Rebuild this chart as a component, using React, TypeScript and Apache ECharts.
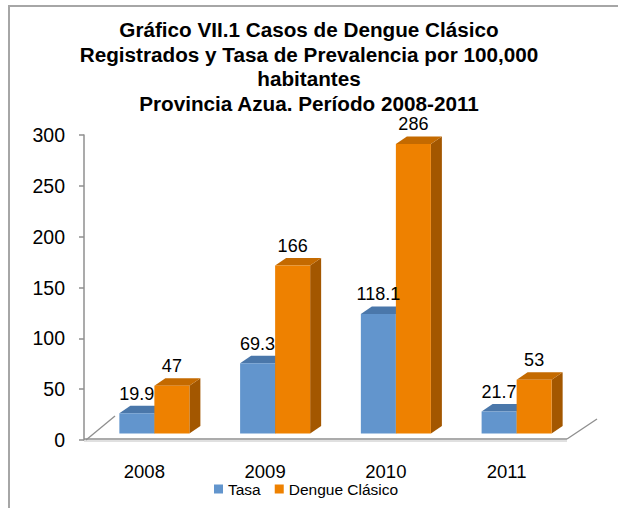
import React, { useEffect, useRef } from 'react';
import * as echarts from 'echarts';

const categories = ['2008', '2009', '2010', '2011'];
const tasa = [19.9, 69.3, 118.1, 21.7];
const dengue = [47, 166, 286, 53];
const seriesNames = ['Tasa', 'Dengue Clásico'];
const titleText = [
  'Gráfico VII.1 Casos de Dengue Clásico',
  'Registrados y Tasa de Prevalencia por 100,000',
  'habitantes',
  'Provincia Azua. Período 2008-2011',
].join('\n');
const yMin = 0;
const yMax = 300;
const yInterval = 50;

const FONT = '"Liberation Sans", Arial, Helvetica, sans-serif';
const BLUE = { front: '#6295cd', top: '#4a77aa', side: '#3f6796' };
const ORANGE = { front: '#ee8100', top: '#c46a00', side: '#a35700' };
const DX = 11;
const DY = 7.5;
const BAR_RATIO = 0.29;

function makeBarRender(side: number, colors: { front: string; top: string; side: string }) {
  return (params: any, api: any) => {
    const idx = api.value(0);
    const v = api.value(1);
    const base = api.coord([idx, 0]);
    const topP = api.coord([idx, v]);
    const bw = api.size([1, 0])[0] * BAR_RATIO;
    const cx = base[0];
    const x0 = side < 0 ? cx - bw : cx;
    const x1 = x0 + bw;
    const yb = base[1];
    const yt = topP[1];
    return {
      type: 'group',
      children: [
        {
          type: 'polygon',
          shape: { points: [[x1, yb], [x1 + DX, yb - DY], [x1 + DX, yt - DY], [x1, yt]] },
          style: { fill: colors.side },
          z2: 1,
        },
        {
          type: 'polygon',
          shape: { points: [[x0, yt], [x0 + DX, yt - DY], [x1 + DX, yt - DY], [x1, yt]] },
          style: { fill: colors.top },
          z2: 2,
        },
        {
          type: 'rect',
          shape: { x: x0, y: yt, width: bw, height: yb - yt },
          style: { fill: colors.front },
          z2: 3,
        },
        {
          type: 'text',
          x: (x0 + x1) / 2,
          y: yt - 19.5,
          z2: 100,
          style: {
            text: String(v),
            fontSize: 18,
            fontFamily: FONT,
            fill: '#000',
            textAlign: 'center',
            textVerticalAlign: 'middle',
            align: 'center',
            verticalAlign: 'middle',
          },
        },
      ],
    };
  };
}

function floorRender(params: any, api: any) {
  const p0 = api.coord([0, 0]);
  const bw = api.size([1, 0])[0];
  const xl = p0[0] - bw / 2;
  const xr = xl + bw * categories.length;
  const y = p0[1] - 1;
  const stroke = '#8f8f8f';
  return {
    type: 'group',
    children: [
      { type: 'line', shape: { x1: xl, y1: y + 2, x2: xr, y2: y + 2 }, style: { stroke: '#d6d6d6', lineWidth: 1.5 } },
      { type: 'line', shape: { x1: xl, y1: y, x2: xr, y2: y }, style: { stroke, lineWidth: 1.5 } },
      { type: 'line', shape: { x1: xl + 2, y1: y + 1, x2: xl + 31, y2: y - 23 }, style: { stroke, lineWidth: 1.3 } },
      { type: 'line', shape: { x1: xr, y1: y, x2: xr + 30, y2: y - 20 }, style: { stroke, lineWidth: 1.3 } },
    ],
  };
}

export default function App() {
  const ref = useRef<HTMLDivElement>(null);
  useEffect(() => {
    if (!ref.current) return;
    const chart = echarts.init(ref.current, undefined, { renderer: 'svg' });
    chart.setOption({
      animation: false,
      color: [BLUE.front, ORANGE.front],
      title: {
        text: titleText,
        left: 'center',
        top: 17.5,
        padding: [0, 0, 0, 14],
        textStyle: {
          fontFamily: FONT,
          fontSize: 20.7,
          fontWeight: 'bold',
          lineHeight: 24.5,
          color: '#000',
        },
      },
      legend: {
        data: seriesNames,
        left: 214,
        top: 481,
        padding: 0,
        icon: 'rect',
        itemWidth: 9,
        itemHeight: 9,
        itemGap: 14,
        textStyle: { fontFamily: FONT, fontSize: 15.5, color: '#000' },
      },
      graphic: [
        {
          type: 'rect',
          shape: { x: 9, y: 6, width: 700, height: 600 },
          style: { fill: 'none', stroke: '#a6a6a6', lineWidth: 2 },
          silent: true,
        },
      ],
      grid: [
        { left: 84, right: 51, top: 135, bottom: 68 },
        { left: 94, right: 41, top: 129.8, bottom: 74.6 },
      ],
      xAxis: [
        {
          type: 'category',
          gridIndex: 0,
          data: categories,
          axisLine: { show: false },
          axisTick: { show: false },
          axisLabel: { fontFamily: FONT, fontSize: 18.5, color: '#000', margin: 22 },
        },
        { type: 'category', gridIndex: 1, data: categories, show: false },
      ],
      yAxis: [
        {
          type: 'value',
          gridIndex: 0,
          min: yMin,
          max: yMax,
          interval: yInterval,
          splitLine: { show: false },
          axisLine: { show: true, lineStyle: { color: '#8f8f8f', width: 1.5 } },
          axisTick: { show: true, length: 5, lineStyle: { color: '#8f8f8f', width: 1.5 } },
          axisLabel: { fontFamily: FONT, fontSize: 19.5, color: '#000', margin: 19 },
        },
        { type: 'value', gridIndex: 1, min: yMin, max: yMax, show: false, splitLine: { show: false } },
      ],
      series: [
        {
          type: 'custom',
          name: 'floor',
          xAxisIndex: 0,
          yAxisIndex: 0,
          data: [[0, 0]],
          renderItem: floorRender,
          silent: true,
          clip: false,
          z: 1,
        },
        {
          type: 'custom',
          name: seriesNames[0],
          xAxisIndex: 1,
          yAxisIndex: 1,
          data: categories.map((c, i) => [i, tasa[i]]),
          renderItem: makeBarRender(-1, BLUE),
          itemStyle: { color: BLUE.front },
          silent: true,
          clip: false,
          z: 2,
        },
        {
          type: 'custom',
          name: seriesNames[1],
          xAxisIndex: 1,
          yAxisIndex: 1,
          data: categories.map((c, i) => [i, dengue[i]]),
          renderItem: makeBarRender(1, ORANGE),
          itemStyle: { color: ORANGE.front },
          silent: true,
          clip: false,
          z: 2,
        },
      ],
    });
    return () => chart.dispose();
  }, []);
  return (
    <div
      ref={ref}
      style={{ position: 'absolute', left: 0, top: 0, width: 618, height: 508, background: '#fff' }}
    />
  );
}
